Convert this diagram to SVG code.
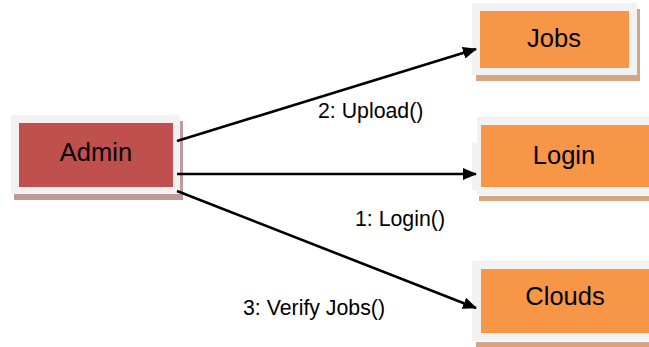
<svg xmlns="http://www.w3.org/2000/svg" width="649" height="347" viewBox="0 0 649 347">
<defs>
<style>
.frame{fill:#f2f2f2}
.shA{fill:#c09a9a}
.shO{fill:#d4a684}
.admin{fill:#c0504d}
.obj{fill:#f79646}
.nt{font-family:"Liberation Sans",Arial,sans-serif;font-size:25.5px;fill:#000;text-anchor:middle}
.lbl{font-family:"Liberation Sans",Arial,sans-serif;font-size:21.3px;fill:#000}
.conn{stroke:#000;stroke-width:2.6;fill:none;marker-end:url(#ah)}
</style>
<marker id="ah" viewBox="0 0 14 12" refX="13" refY="6" markerWidth="14" markerHeight="12" markerUnits="userSpaceOnUse" orient="auto">
<path d="M0,0 L14,6 L0,12 z" fill="#000"/>
</marker>
</defs>
<rect width="649" height="347" fill="#fff"/>
<g id="admin">
<rect class="shA" x="14" y="121" width="169" height="79"/>
<rect class="frame" x="11" y="115" width="169" height="79"/>
<rect class="admin" x="19" y="123" width="154" height="64"/>
<text class="nt" x="96" y="161">Admin</text>
</g>
<g id="jobs">
<rect class="shO" x="476" y="9" width="164" height="72"/>
<rect class="frame" x="472" y="3" width="165" height="72"/>
<rect class="obj" x="480" y="11" width="149" height="57"/>
<text class="nt" x="554" y="47">Jobs</text>
</g>
<g id="login">
<rect class="shO" x="479" y="196" width="180" height="5"/>
<rect class="frame" x="477" y="117" width="183" height="78"/>
<rect class="frame" x="472" y="143" width="6" height="47"/>
<rect class="obj" x="481" y="125" width="180" height="62"/>
<text class="nt" x="564" y="164">Login</text>
</g>
<g id="clouds">
<rect class="shO" x="476" y="342" width="184" height="5"/>
<rect class="frame" x="472" y="261" width="188" height="80"/>
<rect class="obj" x="481" y="269" width="180" height="64"/>
<text class="nt" x="565" y="305">Clouds</text>
</g>
<g id="connectors">
<line class="conn" x1="177" y1="141" x2="476" y2="49"/>
<line class="conn" x1="177" y1="174" x2="476" y2="174"/>
<line class="conn" x1="177" y1="191" x2="476" y2="308"/>
<text class="lbl" x="318" y="118">2: Upload()</text>
<text class="lbl" x="355" y="226">1: Login()</text>
<text class="lbl" x="243" y="315">3: Verify Jobs()</text>
</g>
</svg>
